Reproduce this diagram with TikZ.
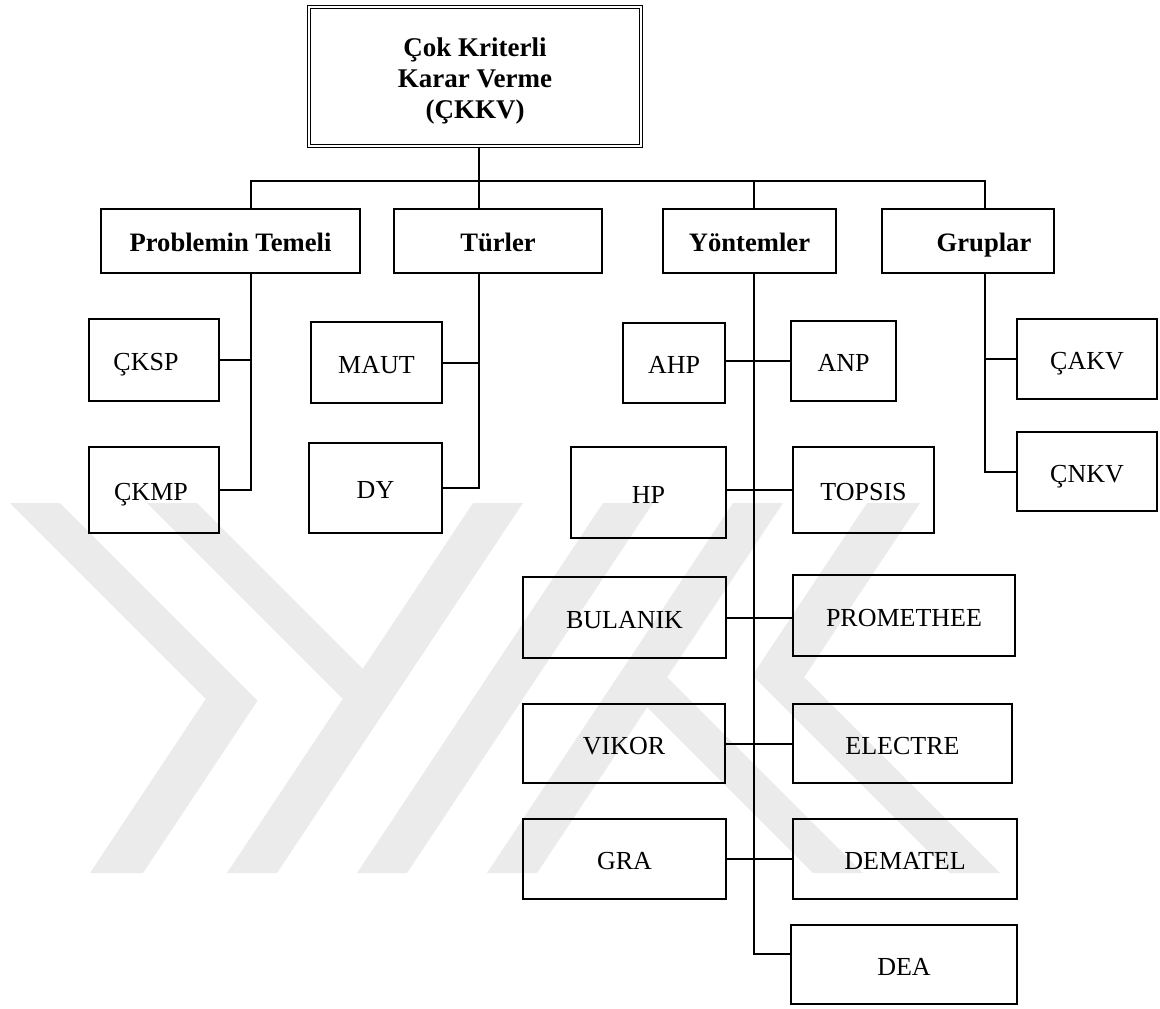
\documentclass[tikz,border=0pt]{standalone}
\usepackage{fontspec}
\setmainfont{Liberation Serif}
\begin{document}
\begin{tikzpicture}[x=0.5pt,y=-0.5pt,
  box/.style={draw, line width=1pt, rectangle, inner sep=0pt, text height=10.6pt, text depth=0pt, font=\fontsize{13}{15.5}\selectfont},
  hbox/.style={box, font=\fontsize{13.3}{15.5}\selectfont\bfseries},
  conn/.style={line width=1pt},
  wm/.style={fill=black!8, draw=none}]
\useasboundingbox (0,0) rectangle (1160,1008);
% watermark
\fill[wm] (10,503) -- (60,503) -- (257.6,700.6) -- (143,873) -- (90,873) -- (205.8,698.8) -- cycle;
\fill[wm] (1000,873) -- (950,873) -- (752.4,675.4) -- (867,503) -- (920,503) -- (804.2,677.2) -- cycle;
\fill[wm] (147,503) -- (197,503) -- (362.8,668.8) -- (342.8,698.8) -- cycle;
\fill[wm] (863,873) -- (813,873) -- (647.2,707.2) -- (667.2,677.2) -- cycle;
\fill[wm] (227,873) -- (277,873) -- (523,503) -- (473,503) -- cycle;
\fill[wm] (783,503) -- (733,503) -- (487,873) -- (537,873) -- cycle;
\fill[wm] (357,873) -- (407,873) -- (653,503) -- (603,503) -- cycle;

% top node
\node[draw, line width=0.55pt, double, double distance=0.9pt, inner sep=0pt, minimum width=166pt, minimum height=69.5pt] (top) at (475,76.5) {};
\node[align=center, inner sep=0pt, font=\fontsize{13.5}{15.5}\selectfont\bfseries] (toptxt) at (475,81) {Çok Kriterli\\Karar Verme\\(ÇKKV)};

% level 1
\node[hbox, minimum width=129.5pt, minimum height=32pt] (prob) at (230.5,241) {Problemin Temeli};
\node[hbox, minimum width=104pt, minimum height=32pt] (tur) at (498,241) {Türler};
\node[hbox, minimum width=86.5pt, minimum height=32pt] (yon) at (749.5,241) {Yöntemler};
\node[hbox, minimum width=86pt, minimum height=32pt] (grp) at (968,241) {\hspace*{16pt}Gruplar};

% children
\node[box, minimum width=65pt, minimum height=41pt] (cksp) at (154,360) {ÇKSP\hspace*{8pt}};
\node[box, minimum width=65pt, minimum height=43pt] (ckmp) at (154,490) {ÇKMP\hspace*{3pt}};
\node[box, minimum width=65.5pt, minimum height=40.5pt] (maut) at (376.5,362.5) {MAUT};
\node[box, minimum width=66.5pt, minimum height=45pt] (dy) at (375.5,488) {DY};
\node[box, minimum width=51pt, minimum height=40pt] (ahp) at (674,363) {AHP};
\node[box, minimum width=52.5pt, minimum height=40pt] (anp) at (843.5,361) {ANP};
\node[box, minimum width=77.5pt, minimum height=45.5pt] (hp) at (648.5,492.5) {HP};
\node[box, minimum width=70.5pt, minimum height=43pt] (topsis) at (863.5,490) {TOPSIS};
\node[box, minimum width=101.5pt, minimum height=40.5pt] (bul) at (624.5,617.5) {BULANIK};
\node[box, minimum width=111pt, minimum height=40.5pt] (prom) at (904,615.5) {PROMETHEE};
\node[box, minimum width=101pt, minimum height=39.5pt] (vik) at (624,743.5) {VIKOR};
\node[box, minimum width=109.5pt, minimum height=39.5pt] (elec) at (902.5,743.5) {ELECTRE};
\node[box, minimum width=101.5pt, minimum height=40pt] (gra) at (624.5,859) {GRA};
\node[box, minimum width=112pt, minimum height=40pt] (dem) at (905,859) {DEMATEL};
\node[box, minimum width=113pt, minimum height=39.5pt] (dea) at (904,964.5) {DEA};
\node[box, minimum width=70pt, minimum height=40pt] (cakv) at (1087,359) {ÇAKV};
\node[box, minimum width=70pt, minimum height=39.5pt] (cnkv) at (1087,471.5) {ÇNKV};

% junction coordinates
\coordinate (xP) at (251,0);
\coordinate (xT) at (479,0);
\coordinate (xY) at (754,0);
\coordinate (xG) at (985,0);
\coordinate (yb) at (0,181);
\coordinate (deaJ) at (791,954);

% connectors
\draw[conn] (top.south -| xT) -- (tur.north -| xT);
\draw[conn] (prob.north -| xP) |- (yb -| xG) -- (grp.north -| xG);
\draw[conn] (yb -| xY) -- (yon.north -| xY);

\draw[conn] (prob.south -| xP) |- (ckmp.east);
\draw[conn] (cksp.east) -- (cksp.east -| xP);

\draw[conn] (tur.south -| xT) |- (dy.east);
\draw[conn] (maut.east) -- (maut.east -| xT);

\draw[conn] (grp.south -| xG) |- (cnkv.west);
\draw[conn] (cakv.west) -- (cakv.west -| xG);

\draw[conn] (yon.south -| xY) |- (deaJ);
\draw[conn] (ahp.east |- anp.west) -- (anp.west);
\draw[conn] (hp.east |- topsis.west) -- (topsis.west);
\draw[conn] (bul.east) -- (bul.east -| prom.west);
\draw[conn] (vik.east) -- (vik.east -| elec.west);
\draw[conn] (gra.east) -- (gra.east -| dem.west);
\end{tikzpicture}
\end{document}
